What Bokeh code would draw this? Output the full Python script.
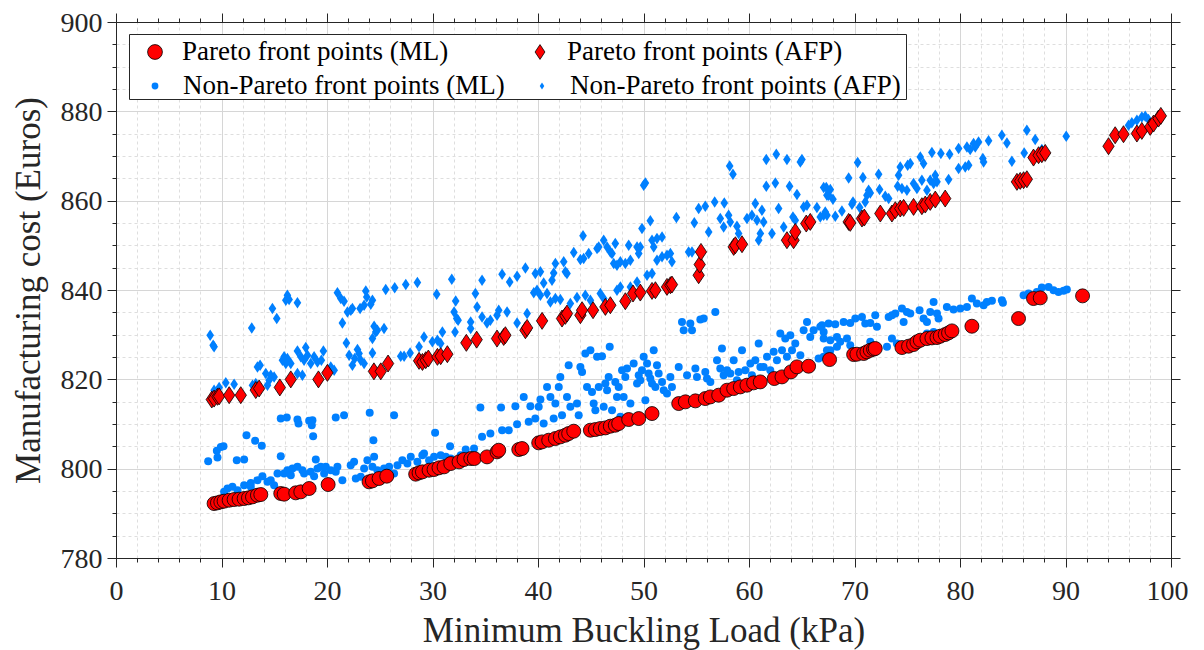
from bokeh.plotting import figure
from bokeh.models import Legend, LegendItem, LinearAxis, SingleIntervalTicker, BoxAnnotation, Range1d
from bokeh.embed import file_html
from bokeh.resources import INLINE

FONT = "Liberation Serif"
TXT = "#262626"
BLUE = "#0080ff"
RED = "#ff0000"

X_LABEL = "Minimum Buckling Load (kPa)"
Y_LABEL = "Manufacturing cost (Euros)"
LEGEND_LABELS = ["Pareto front points (ML)", "Pareto front points (AFP)",
                 "Non-Pareto front points (ML)", "Non-Pareto front points (AFP)"]

# ---------------- data ----------------
PARETO_ML = [
    (9.25, 792.3), (9.57, 792.46), (9.89, 792.68), (10.2, 792.83), (10.68, 793.05), (11.15, 793.2),
    (11.62, 793.28), (12.1, 793.43), (12.51, 793.58), (12.89, 793.8), (13.36, 794.17), (13.68, 794.32),
    (15.57, 794.55), (15.89, 794.4), (16.99, 794.7), (17.47, 794.92), (18.26, 795.67), (20.06, 796.56),
    (23.94, 797.16), (24.26, 797.38), (24.89, 797.91), (25.62, 798.43), (28.36, 798.88), (28.68, 799.17),
    (29.0, 799.4), (29.63, 799.77), (30.1, 799.92), (30.57, 800.3), (31.05, 800.52), (31.68, 801.26),
    (32.47, 801.64), (32.94, 802.16), (33.58, 802.38), (33.92, 802.38), (35.12, 802.75), (36.07, 803.87),
    (36.23, 804.24), (38.13, 804.39), (38.44, 804.62), (40.02, 805.89), (40.34, 806.11), (40.97, 806.48),
    (41.6, 806.86), (42.07, 807.23), (42.55, 807.6), (42.86, 807.98), (43.34, 808.5), (44.92, 808.72),
    (45.39, 808.87), (45.86, 809.1), (46.34, 809.24), (46.81, 809.62), (47.28, 809.84), (47.6, 810.22),
    (48.55, 811.11), (49.5, 811.33), (50.76, 812.45), (53.29, 814.69), (53.92, 815.07), (54.87, 815.29),
    (55.81, 815.81), (56.29, 816.18), (57.08, 816.56), (57.87, 817.68), (58.5, 818.05), (59.13, 818.42),
    (59.76, 818.8), (60.39, 819.32), (61.02, 819.54), (62.35, 820.29), (63.08, 820.66), (63.93, 821.78),
    (64.5, 822.9), (65.6, 823.05), (67.59, 824.54), (69.87, 825.66), (70.18, 825.74), (70.82, 825.89),
    (71.13, 826.26), (71.45, 826.63), (71.76, 826.86), (71.92, 827.01), (74.45, 827.23), (75.08, 827.53),
    (75.55, 827.9), (75.87, 828.5), (76.19, 828.87), (76.82, 829.24), (77.29, 829.39), (77.77, 829.47),
    (78.08, 829.77), (78.55, 830.14), (78.87, 830.51), (79.19, 830.96), (81.08, 832.0), (85.5, 833.72),
    (86.92, 838.2), (87.56, 838.35), (91.57, 838.8),
]

PARETO_AFP = [
    (9.03, 815.59), (9.25, 815.8), (9.57, 816.2), (9.73, 816.3), (10.68, 816.56), (11.78, 816.56),
    (13.2, 817.7), (13.52, 818.05), (15.48, 818.3), (16.52, 820.1), (19.14, 820.1), (19.99, 821.56),
    (24.4, 821.9), (25.05, 821.9), (25.74, 823.65), (28.68, 824.25), (29.0, 824.0), (29.31, 824.4),
    (29.56, 824.77), (30.42, 825.14), (30.73, 825.3), (31.36, 825.74), (33.16, 828.28), (34.14, 829.0),
    (36.07, 829.24), (36.7, 829.6), (36.86, 829.99), (38.76, 831.1), (38.92, 831.63), (40.34, 833.2),
    (42.23, 833.72), (42.55, 834.32), (42.7, 834.84), (43.97, 834.47), (44.13, 835.59), (45.17, 835.59),
    (46.34, 836.33), (46.81, 836.7), (48.23, 837.6), (48.96, 839.32), (49.65, 839.54), (50.76, 839.91),
    (51.08, 840.06), (52.18, 840.81), (52.5, 841.18), (52.65, 841.33), (55.18, 843.42), (55.28, 845.81),
    (55.4, 848.64), (58.5, 849.76), (58.66, 850.13), (59.29, 850.36), (63.55, 851.26), (64.18, 851.26),
    (64.34, 853.12), (65.38, 854.99), (65.76, 855.36), (69.4, 855.36), (69.55, 855.14), (70.66, 856.11),
    (70.88, 856.33), (72.4, 857.23), (73.5, 857.23), (73.82, 857.97), (74.29, 858.35), (74.61, 858.5),
    (75.55, 858.72), (76.34, 858.87), (76.66, 859.24), (77.13, 859.84), (77.61, 860.36), (78.55, 860.59),
    (85.35, 864.32), (85.66, 864.54), (85.98, 864.69), (86.29, 864.91), (86.92, 869.76), (87.4, 870.29),
    (87.71, 870.51), (88.03, 870.81), (94.03, 872.3), (94.66, 874.76), (95.45, 874.99), (96.72, 875.14),
    (97.19, 875.73), (97.98, 876.63), (98.3, 877.38), (98.77, 878.5), (98.99, 879.09),
]

NON_PARETO_ML = [
    (8.69, 801.79), (9.51, 804.1), (9.57, 802.61), (9.89, 804.99), (10.14, 805.14), (11.4, 802.01),
    (12.1, 802.16), (12.32, 807.61), (13.14, 806.34), (13.77, 805.22), (15.57, 811.34), (16.14, 811.56),
    (17.15, 811.11), (17.25, 810.22), (18.26, 810.82), (18.57, 810.96), (18.51, 809.85), (18.64, 807.38),
    (20.78, 811.56), (21.57, 812.08), (24.0, 812.61), (24.35, 806.49), (26.31, 812.08), (30.2, 808.13),
    (31.62, 805.14), (15.57, 802.9), (18.89, 802.16), (24.42, 802.76), (27.89, 802.76), (29.15, 803.5),
    (10.52, 795.67), (10.99, 796.04), (12.1, 796.41), (12.73, 796.93), (13.36, 797.53), (13.83, 798.43),
    (14.62, 797.53), (15.26, 799.02), (15.89, 799.02), (16.2, 799.77), (16.68, 800.14), (17.15, 800.52),
    (17.62, 799.77), (17.78, 799.02), (18.41, 799.4), (19.05, 800.14), (19.36, 800.52), (19.84, 800.52),
    (20.31, 799.77), (20.94, 800.52), (21.41, 797.53), (22.2, 800.89), (22.52, 801.64), (22.68, 797.91),
    (23.15, 798.28), (23.47, 800.14), (23.78, 802.01), (24.26, 800.52), (24.73, 799.77), (25.36, 800.14),
    (25.84, 800.52), (26.31, 799.02), (26.63, 800.89), (27.1, 802.01), (27.57, 801.26), (28.52, 801.64),
    (28.99, 803.13), (29.63, 802.01), (30.1, 802.76), (30.73, 803.13), (31.21, 802.76), (31.68, 802.38),
    (32.63, 803.13), (33.1, 804.4), (33.89, 804.62), (10.2, 794.92), (11.47, 795.3), (12.73, 796.04),
    (14.31, 797.16), (14.94, 796.41), (16.52, 798.65), (18.73, 798.43), (19.68, 799.02), (20.78, 799.4),
    (34.49, 813.8), (35.44, 807.98), (34.65, 807.23), (36.55, 808.72), (36.45, 813.8), (37.18, 808.72),
    (37.81, 814.1), (37.97, 810.06), (38.6, 816.18), (39.07, 810.59), (39.23, 814.1), (39.7, 811.33),
    (40.02, 813.95), (40.18, 815.59), (40.49, 810.22), (40.81, 818.42), (41.13, 816.18), (41.44, 811.33),
    (41.6, 814.69), (41.92, 818.42), (42.07, 820.66), (42.23, 812.08), (42.7, 816.18), (42.86, 823.27),
    (43.02, 813.95), (43.65, 814.69), (43.81, 812.08), (43.97, 822.9), (44.13, 821.78), (44.44, 825.89),
    (44.6, 818.42), (44.92, 826.63), (45.07, 817.3), (45.23, 814.69), (45.39, 813.2), (45.55, 825.14),
    (45.71, 818.42), (46.02, 825.29), (46.18, 813.95), (46.34, 819.17), (46.5, 817.68), (46.65, 820.66),
    (46.75, 827.38), (46.97, 813.2), (47.28, 819.54), (47.44, 816.18), (47.6, 818.42), (47.76, 811.71),
    (47.92, 822.15), (48.07, 816.18), (48.23, 820.66), (48.39, 822.53), (48.71, 814.69), (49.02, 823.65),
    (49.34, 819.17), (49.5, 821.03), (49.65, 819.91), (49.81, 822.15), (49.97, 825.14), (50.13, 815.44),
    (50.29, 823.65), (50.44, 821.41), (50.6, 820.29), (50.76, 819.17), (50.92, 826.63), (51.08, 818.42),
    (51.23, 823.27), (51.39, 821.41), (51.71, 819.54), (51.87, 817.68), (52.18, 816.93), (52.5, 820.66),
    (52.65, 818.42), (53.29, 822.9), (53.6, 832.97), (53.76, 831.11), (54.08, 821.03), (54.39, 832.6),
    (54.55, 831.11), (54.87, 822.53), (55.02, 820.66), (55.34, 833.5), (55.66, 833.72), (55.81, 821.78),
    (55.97, 820.29), (56.29, 819.54), (56.76, 835.21), (56.92, 824.39), (57.23, 822.53), (57.39, 827.01),
    (57.55, 821.03), (57.87, 822.15), (58.18, 821.41), (58.5, 824.39), (58.81, 819.91), (58.97, 821.78),
    (59.29, 826.63), (59.6, 822.15), (60.08, 823.65), (60.23, 821.03), (60.55, 824.39), (60.87, 828.12),
    (61.03, 822.9), (61.34, 822.9), (61.66, 825.14), (61.97, 822.15), (62.29, 826.26), (62.6, 824.39),
    (62.92, 830.36), (63.08, 826.63), (63.39, 829.24), (63.55, 825.14), (63.87, 829.99), (64.03, 826.63),
    (64.34, 828.12), (64.82, 825.51), (65.13, 831.11), (65.45, 832.97), (65.76, 829.61), (66.08, 831.11),
    (66.55, 824.76), (66.71, 831.86), (67.03, 830.73), (67.5, 832.6), (67.34, 826.63),
    (66.87, 832.23), (68.13, 832.45), (68.92, 832.97), (69.55, 832.75), (70.03, 833.72), (70.66, 834.09),
    (70.97, 832.6), (71.45, 832.75), (71.92, 834.47), (72.08, 831.86), (73.19, 834.09), (73.5, 834.47),
    (73.82, 834.84), (74.45, 835.96), (74.92, 835.21), (75.24, 834.84), (74.61, 832.97), (76.12, 835.59),
    (76.5, 833.72), (76.82, 832.97), (77.13, 835.21), (77.45, 837.45), (77.77, 834.84), (77.92, 833.72),
    (78.71, 836.33), (79.34, 835.74), (79.98, 835.96), (80.61, 836.33), (81.08, 838.2), (81.55, 837.08),
    (82.19, 836.7), (82.5, 837.45), (82.98, 837.68), (83.92, 837.82), (84.02, 837.23), (85.98, 838.94),
    (86.45, 839.32), (87.24, 839.69), (87.71, 840.66), (88.35, 840.81), (88.82, 840.06), (89.29, 839.69),
    (89.77, 839.92), (90.08, 840.21), (67.03, 829.24), (67.66, 828.87), (68.29, 829.61), (68.6, 828.5),
    (69.24, 829.24), (69.55, 827.75), (67.66, 826.63), (67.03, 825.14), (68.29, 827.38), (71.45, 828.5),
    (73.03, 827.38), (73.5, 829.24), (73.97, 828.12), (76.82, 830.36), (77.45, 830.73),
]

NON_PARETO_AFP = [
    (8.88, 829.99), (9.16, 827.75), (9.25, 827.38), (12.82, 831.63), (14.78, 835.96), (15.19, 833.72),
    (16.05, 837.82), (16.2, 838.94), (16.36, 837.97), (17.15, 837.23), (20.94, 839.47), (21.26, 838.2),
    (21.57, 837.6), (21.89, 835.21), (22.21, 835.59), (22.36, 835.96), (23.09, 835.96), (23.47, 836.7),
    (23.63, 839.91), (23.72, 838.57), (24.1, 836.93), (24.26, 837.82), (21.41, 832.75), (21.79, 828.27),
    (22.05, 825.51), (22.36, 823.27), (22.58, 824.76), (22.84, 826.78), (22.99, 825.88), (23.15, 824.39),
    (23.47, 823.65), (24.26, 829.24), (24.42, 832.0), (24.57, 830.73), (24.73, 831.11), (25.36, 831.48),
    (24.26, 826.03), (25.52, 840.21), (26.37, 840.59), (27.42, 841.33), (28.52, 841.78), (29.15, 829.61),
    (30.35, 839.17), (31.78, 842.53), (32.15, 837.67), (32.0, 835.21), (32.25, 833.72), (32.38, 833.35),
    (32.09, 830.73), (33.57, 832.97), (33.57, 831.48), (30.89, 830.73), (28.68, 827.38), (29.94, 828.5),
    (30.42, 828.87), (30.73, 828.12), (26.94, 825.29), (27.26, 825.29), (27.83, 826.03), (13.36, 822.9),
    (13.61, 823.27), (14.15, 821.41), (14.62, 821.03), (14.94, 820.66), (15.73, 824.39), (15.89, 825.14),
    (16.05, 823.65), (16.2, 824.76), (16.52, 823.65), (17.15, 826.48), (17.47, 825.14), (17.78, 824.39),
    (17.94, 827.23), (18.1, 825.51), (18.41, 823.65), (18.73, 825.14), (19.05, 824.02), (19.42, 824.39),
    (19.61, 826.48), (17.15, 821.41), (17.62, 821.03), (10.36, 819.32), (11.15, 819.02), (12.89, 818.79),
    (13.2, 819.17), (14.31, 818.79), (14.47, 819.91), (20.31, 822.9), (20.63, 822.15), (9.73, 818.28),
    (9.25, 817.68),
    (34.65, 842.3), (36.55, 843.64), (37.27, 841.93), (37.97, 843.2), (38.76, 845.06), (39.7, 843.79),
    (40.18, 844.17), (40.49, 841.7), (41.28, 842.3), (41.6, 846.03), (41.44, 843.94), (42.39, 846.41),
    (42.55, 844.17), (42.7, 843.79), (43.34, 848.5), (43.97, 846.93), (44.28, 847.15), (44.22, 852.23),
    (44.76, 848.27), (45.55, 849.39), (45.71, 849.76), (46.18, 851.26), (46.5, 849.76), (46.81, 848.64),
    (46.97, 848.27), (47.28, 850.51), (47.13, 846.03), (47.44, 845.66), (47.76, 846.41), (48.23, 846.03),
    (48.55, 850.13), (48.71, 846.78), (49.34, 849.76), (49.5, 848.27), (49.65, 849.76), (49.81, 853.87),
    (49.97, 863.57), (50.13, 864.09), (50.6, 855.59), (50.76, 851.26), (50.92, 849.76), (51.23, 851.63),
    (51.71, 852.0), (51.23, 846.78), (51.71, 847.53), (52.18, 847.9), (52.5, 848.27), (52.65, 846.41),
    (53.07, 856.33), (54.23, 848.64), (54.55, 848.64), (54.77, 855.14), (55.18, 858.35), (55.81, 858.87),
    (56.13, 853.12), (56.7, 859.84), (57.61, 859.61), (58.12, 867.9), (58.43, 866.03), (57.23, 856.11),
    (57.55, 854.24), (58.02, 856.85), (58.18, 855.36), (58.81, 854.39), (58.97, 852.75), (59.76, 856.11),
    (60.23, 856.85), (60.55, 859.47), (60.71, 855.73), (60.87, 851.26), (61.03, 852.75), (61.18, 857.97),
    (61.34, 855.36), (61.59, 869.32), (61.59, 863.35), (62.13, 852.75), (62.45, 864.09), (62.54, 870.51),
    (62.76, 858.35), (63.55, 869.32), (63.8, 863.35), (64.12, 856.48), (64.5, 861.48), (64.82, 868.79),
    (64.97, 869.32), (65.13, 858.72), (65.45, 859.09), (66.39, 858.57), (66.71, 856.48), (67.03, 863.05),
    (67.5, 861.33), (67.66, 862.6), (67.34, 856.85), (63.24, 854.24), (64.34, 855.73), (34.02, 839.32),
    (34.18, 836.33), (34.65, 834.09), (35.12, 832.75), (35.44, 833.35), (36.07, 834.47), (36.23, 835.59),
    (37.02, 835.21), (37.97, 832.75), (38.92, 834.84), (39.55, 839.47), (39.86, 840.06), (40.18, 838.94),
    (40.81, 839.32), (41.13, 837.45), (41.6, 838.2), (42.07, 837.97), (43.02, 837.08), (43.65, 838.42),
    (44.44, 838.94), (44.92, 837.82), (45.86, 839.32), (46.18, 838.2), (47.44, 840.06), (47.76, 840.81),
    (48.71, 840.81), (49.34, 841.93), (50.29, 843.42), (50.76, 843.79),
    (67.03, 856.85), (67.18, 857.6), (67.34, 861.33), (67.28, 863.05), (67.91, 860.44), (68.13, 856.63),
    (68.76, 857.82), (69.4, 865.21), (69.71, 859.32), (69.81, 859.84), (70.25, 868.64), (70.44, 858.57),
    (70.75, 865.29), (70.97, 859.84), (71.13, 861.33), (71.29, 862.45), (71.45, 861.85), (72.24, 866.03),
    (72.33, 862.6), (72.87, 861.11), (73.19, 860.59), (74.04, 863.35), (74.13, 865.81), (74.29, 867.67),
    (74.45, 862.82), (74.92, 862.45), (74.99, 868.05), (75.24, 868.42), (75.55, 863.94), (75.87, 862.82),
    (76.19, 869.91), (76.34, 864.69), (76.5, 868.42), (76.82, 862.45), (77.13, 864.69), (77.29, 870.88),
    (77.45, 863.94), (77.61, 865.81), (77.77, 864.32), (78.14, 870.66), (78.87, 864.84), (78.97, 870.51),
    (79.82, 867.3), (79.82, 871.78), (80.45, 867.67), (80.61, 872.15), (80.77, 868.05), (80.92, 871.55),
    (81.24, 872.9), (81.4, 872.15), (81.71, 873.27), (82.12, 869.54), (82.19, 868.79), (82.66, 873.5),
    (83.92, 874.76), (84.4, 873.05), (84.87, 868.94), (86.04, 870.81), (86.29, 875.88), (87.08, 873.79),
    (87.71, 871.55), (90.02, 874.54), (95.93, 877.0), (96.24, 877.53), (96.72, 878.12), (97.19, 878.87),
    (97.51, 879.02), (97.82, 878.27),
]

X_RANGE = (0, 100)
Y_RANGE = (780, 900)
X_TICK_STEP = 10
Y_TICK_STEP = 20


def xs(pts):
    return [p[0] for p in pts]


def ys(pts):
    return [p[1] for p in pts]


p = figure(frame_width=1055, frame_height=536,
           x_range=Range1d(*X_RANGE), y_range=Range1d(*Y_RANGE),
           output_backend="svg", toolbar_location=None,
           min_border_left=116, min_border_top=22, min_border_right=17, min_border_bottom=0,
           x_axis_label=X_LABEL, y_axis_label=Y_LABEL,
           background_fill_color="white", border_fill_color="white")
p.outline_line_color = None

xt = SingleIntervalTicker(interval=X_TICK_STEP, num_minor_ticks=5)
yt = SingleIntervalTicker(interval=Y_TICK_STEP, num_minor_ticks=4)
p.xaxis.ticker = xt
p.yaxis.ticker = yt
p.xgrid.ticker = xt
p.ygrid.ticker = yt

for g in (p.xgrid, p.ygrid):
    g.grid_line_color = "#d6d6d6"
    g.grid_line_width = 1
    g.minor_grid_line_color = "#dedede"
    g.minor_grid_line_dash = "3 3"
    g.minor_grid_line_width = 1


def style_axis(ax, labels=True):
    ax.axis_line_color = TXT
    ax.axis_line_width = 1
    ax.major_tick_line_color = TXT
    ax.minor_tick_line_color = TXT
    ax.major_tick_in = 0
    ax.major_tick_out = 9
    ax.minor_tick_in = 0
    ax.minor_tick_out = 4
    if labels:
        ax.major_label_text_font = FONT
        ax.major_label_text_font_size = "28px"
        ax.major_label_text_color = TXT
        ax.major_label_standoff = 5
        ax.axis_label_text_font = FONT
        ax.axis_label_text_font_size = "35px"
        ax.axis_label_text_font_style = "normal"
        ax.axis_label_text_color = TXT
    else:
        ax.major_label_text_color = None
        ax.major_label_text_font_size = "0px"
        ax.major_label_standoff = 0


style_axis(p.xaxis[0])
style_axis(p.yaxis[0])
p.xaxis[0].major_label_standoff = 14
p.xaxis[0].axis_label_standoff = 8
p.yaxis[0].axis_label_standoff = 10

top_ax = LinearAxis(ticker=xt)
right_ax = LinearAxis(ticker=yt)
style_axis(top_ax, labels=False)
style_axis(right_ax, labels=False)
p.add_layout(top_ax, "above")
p.add_layout(right_ax, "right")

r_nml = p.scatter(xs(NON_PARETO_ML), ys(NON_PARETO_ML), marker="circle", size=8,
                  fill_color=BLUE, line_color=None)
r_nafp = p.scatter(xs(NON_PARETO_AFP), ys(NON_PARETO_AFP), marker="diamond", size=11.5,
                   fill_color=BLUE, line_color=None)
r_pml = p.scatter(xs(PARETO_ML), ys(PARETO_ML), marker="circle", size=14,
                  fill_color=RED, line_color="black", line_width=0.8)
r_pafp = p.scatter(xs(PARETO_AFP), ys(PARETO_AFP), marker="diamond", size=17,
                   fill_color=RED, line_color="black", line_width=0.8)

# legend frame
box = BoxAnnotation(left=129, right=906, top=34, bottom=99,
                    left_units="canvas", right_units="canvas",
                    top_units="canvas", bottom_units="canvas",
                    fill_color="white", fill_alpha=1.0,
                    line_color=TXT, line_width=1, line_alpha=1.0)
p.add_layout(box)

common = dict(orientation="horizontal", padding=0, margin=0, border_line_color=None,
              background_fill_alpha=0, label_text_font=FONT, label_text_font_size="27px",
              label_text_color="black", label_width=335)

leg_a = Legend(items=[LegendItem(label=LEGEND_LABELS[0], renderers=[r_pml]),
                      LegendItem(label=LEGEND_LABELS[1], renderers=[r_pafp])],
               location=(20, 488.5), glyph_width=37, glyph_height=37,
               label_standoff=9, spacing=4, **common)
leg_b = Legend(items=[LegendItem(label=LEGEND_LABELS[2], renderers=[r_nml]),
                      LegendItem(label=LEGEND_LABELS[3], renderers=[r_nafp])],
               location=(30, 455.5), glyph_width=17, glyph_height=35,
               label_standoff=20, spacing=15, **common)
p.add_layout(leg_a)
p.add_layout(leg_b)

open("out.html", "w").write(file_html(p, INLINE))
